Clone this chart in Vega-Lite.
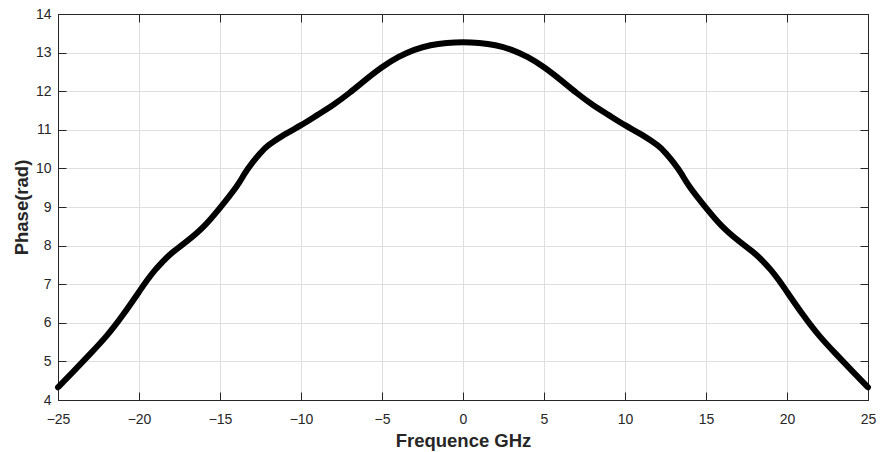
{
  "$schema": "https://vega.github.io/schema/vega-lite/v6.json",
  "autosize": {"type": "none"},
  "padding": {"left": 58, "top": 14, "right": 12, "bottom": 52},
  "width": 810,
  "height": 386,
  "background": "white",
  "config": {
    "view": {"stroke": "#262626", "strokeWidth": 1},
    "font": "Liberation Sans",
    "axis": {
      "labelFont": "Liberation Sans",
      "labelFontSize": 14,
      "labelColor": "#262626",
      "labelFlush": false,
      "titleFont": "Liberation Sans",
      "titleFontSize": 18.5,
      "titleFontWeight": "bold",
      "titleColor": "#262626",
      "domainColor": "#262626",
      "tickColor": "#262626",
      "ticks": true,
      "tickWidth": 1,
      "gridColor": "#dfdfdf",
      "gridWidth": 1
    }
  },
  "data": {
    "values": [
      {"f": -25, "p": 4.33}, {"f": -24, "p": 4.76}, {"f": -23, "p": 5.2}, {"f": -22, "p": 5.66},
      {"f": -21, "p": 6.2}, {"f": -20, "p": 6.8}, {"f": -19.5, "p": 7.1}, {"f": -19, "p": 7.37},
      {"f": -18.5, "p": 7.6}, {"f": -18, "p": 7.8}, {"f": -17, "p": 8.13}, {"f": -16, "p": 8.5},
      {"f": -15, "p": 8.98}, {"f": -14, "p": 9.52}, {"f": -13.5, "p": 9.85}, {"f": -13, "p": 10.15},
      {"f": -12.5, "p": 10.4}, {"f": -12, "p": 10.6}, {"f": -11, "p": 10.88}, {"f": -10, "p": 11.12},
      {"f": -9, "p": 11.38}, {"f": -8, "p": 11.65}, {"f": -7, "p": 11.96}, {"f": -6, "p": 12.3},
      {"f": -5, "p": 12.62}, {"f": -4, "p": 12.88}, {"f": -3, "p": 13.07}, {"f": -2, "p": 13.19},
      {"f": -1, "p": 13.25}, {"f": 0, "p": 13.27},
      {"f": 1, "p": 13.25}, {"f": 2, "p": 13.19}, {"f": 3, "p": 13.07}, {"f": 4, "p": 12.88},
      {"f": 5, "p": 12.62}, {"f": 6, "p": 12.3}, {"f": 7, "p": 11.96}, {"f": 8, "p": 11.65},
      {"f": 9, "p": 11.38}, {"f": 10, "p": 11.12}, {"f": 11, "p": 10.88}, {"f": 12, "p": 10.6},
      {"f": 12.5, "p": 10.4}, {"f": 13, "p": 10.15}, {"f": 13.5, "p": 9.85}, {"f": 14, "p": 9.52},
      {"f": 15, "p": 8.98}, {"f": 16, "p": 8.5}, {"f": 17, "p": 8.13}, {"f": 18, "p": 7.8},
      {"f": 18.5, "p": 7.6}, {"f": 19, "p": 7.37}, {"f": 19.5, "p": 7.1}, {"f": 20, "p": 6.8},
      {"f": 21, "p": 6.2}, {"f": 22, "p": 5.66}, {"f": 23, "p": 5.2}, {"f": 24, "p": 4.76},
      {"f": 25, "p": 4.33}
    ]
  },
  "layer": [
    {
      "mark": {"type": "line", "color": "black", "strokeWidth": 6, "interpolate": "natural", "strokeCap": "round", "clip": false},
      "encoding": {
        "x": {"field": "f", "type": "quantitative", "scale": {"domain": [-25, 25], "nice": false},
          "axis": {"title": "Frequence GHz", "values": [-25,-20,-15,-10,-5,0,5,10,15,20,25], "tickSize": -8, "labelPadding": 20, "titlePadding": 5, "grid": true, "orient": "bottom"}},
        "y": {"field": "p", "type": "quantitative", "scale": {"domain": [4, 14], "nice": false, "zero": false},
          "axis": {"title": "Phase(rad)", "values": [4,5,6,7,8,9,10,11,12,13,14], "tickSize": -8, "labelPadding": 15, "titlePadding": 4, "grid": true, "orient": "left"}}
      }
    },
    {
      "mark": {"type": "line", "opacity": 0},
      "encoding": {
        "x": {"field": "f", "type": "quantitative", "axis": {"orient": "top", "title": null, "labels": false, "grid": false, "tickSize": -8, "values": [-25,-20,-15,-10,-5,0,5,10,15,20,25]}},
        "y": {"field": "p", "type": "quantitative", "axis": {"orient": "right", "title": null, "labels": false, "grid": false, "tickSize": -8, "values": [4,5,6,7,8,9,10,11,12,13,14]}}
      }
    }
  ]
}
